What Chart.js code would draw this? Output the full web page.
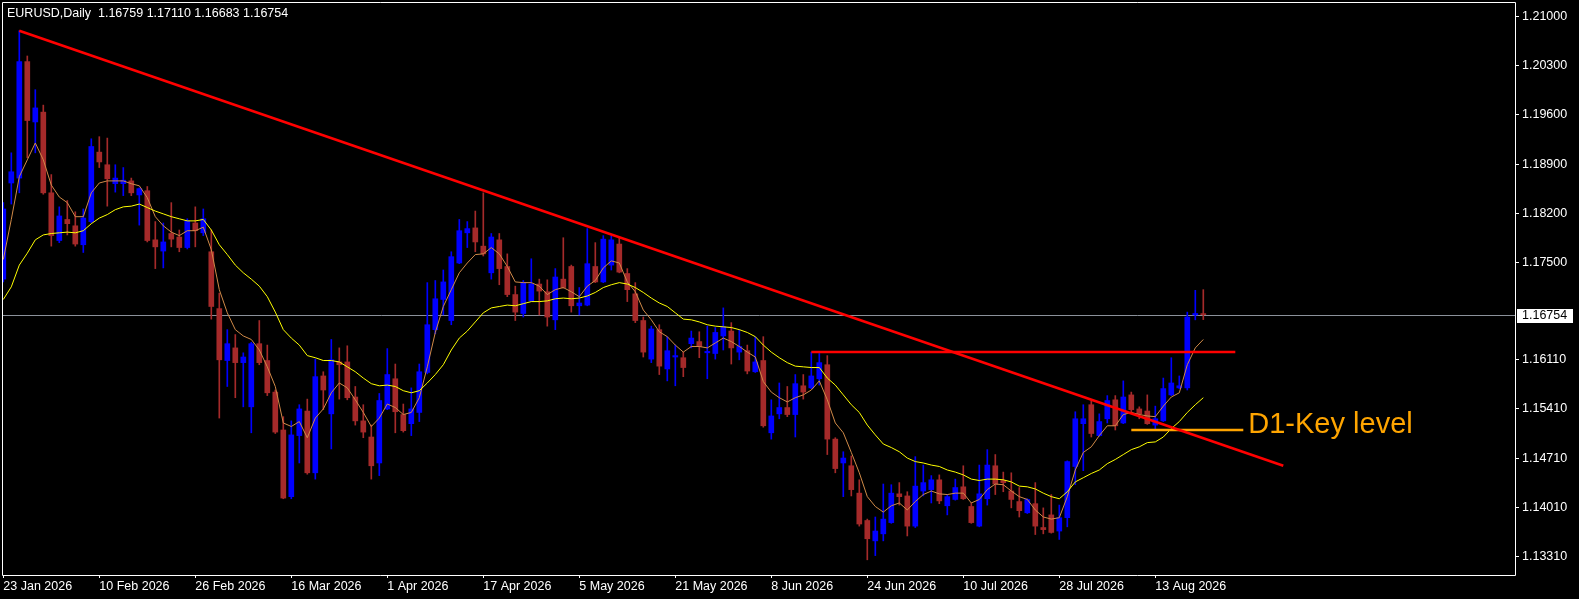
<!DOCTYPE html>
<html>
<head>
<meta charset="utf-8">
<title>EURUSD Daily</title>
<script src="https://cdn.jsdelivr.net/npm/chart.js@4/dist/chart.umd.min.js"></script>
<style>
  html, body { margin: 0; padding: 0; background: #000; }
  #wrap { width: 1579px; height: 599px; position: relative; }
</style>
</head>
<body>
<div id="wrap"><canvas id="chart"></canvas></div>
<script>
// ---- daily EURUSD candles, bar 0 = 23 Jan 2026 ----
const opens = [
  1.1726, 1.1863, 1.1870, 1.2036, 1.1950, 1.1964, 1.1849, 1.1781, 1.1811, 1.1802,
  1.1775, 1.1808, 1.1907, 1.1889, 1.1862, 1.1862, 1.1866, 1.1846, 1.1852, 1.1782,
  1.1766, 1.1791, 1.1786, 1.1771, 1.1806, 1.1792, 1.1765, 1.1684, 1.1610, 1.1628,
  1.1607, 1.1544, 1.1634, 1.1610, 1.1565, 1.1511, 1.1416, 1.1503, 1.1538, 1.1450,
  1.1588, 1.1534, 1.1608, 1.1608, 1.1558, 1.1524, 1.1501, 1.1464, 1.1541, 1.1584,
  1.1533, 1.1520, 1.1536, 1.1593, 1.1654, 1.1697, 1.1667, 1.1749, 1.1792, 1.1799,
  1.1773, 1.1735, 1.1782, 1.1744, 1.1704, 1.1677, 1.1695, 1.1719, 1.1708, 1.1668,
  1.1726, 1.1744, 1.1688, 1.1689, 1.1744, 1.1722, 1.1746, 1.1776, 1.1734, 1.1705,
  1.1667, 1.1612, 1.1654, 1.1598, 1.1615, 1.1614, 1.1634, 1.1637, 1.1621, 1.1620,
  1.1645, 1.1652, 1.1622, 1.1624, 1.1594, 1.1610, 1.1507, 1.1534, 1.1543, 1.1533,
  1.1574, 1.1571, 1.1584, 1.1604, 1.1498, 1.1464, 1.1460, 1.1421, 1.1382, 1.1353,
  1.1363, 1.1379, 1.1420, 1.1417, 1.1374, 1.1424, 1.1426, 1.1440, 1.1403, 1.1412,
  1.1430, 1.1402, 1.1374, 1.1413, 1.1460, 1.1439, 1.1424, 1.1409, 1.1393, 1.1406,
  1.1372, 1.1390, 1.1367, 1.1386, 1.1459, 1.1520, 1.1547, 1.1503, 1.1527, 1.1554,
  1.1521, 1.1561, 1.1541, 1.1538, 1.1518, 1.1524, 1.1561, 1.1571, 1.1571, 1.1675,
  1.16759
];
const highs = [
  1.1835, 1.1906, 1.2080, 1.2044, 1.1996, 1.1974, 1.1875, 1.1829, 1.1838, 1.1822,
  1.1826, 1.1926, 1.1929, 1.1927, 1.1889, 1.1885, 1.1870, 1.1856, 1.1858, 1.1808,
  1.1806, 1.1835, 1.1796, 1.1812, 1.1829, 1.1826, 1.1796, 1.1706, 1.1654, 1.1647,
  1.1621, 1.1636, 1.1667, 1.1632, 1.1568, 1.1530, 1.1524, 1.1547, 1.1555, 1.1612,
  1.1594, 1.1640, 1.1628, 1.1631, 1.1573, 1.1547, 1.1518, 1.1563, 1.1627, 1.1605,
  1.1548, 1.1571, 1.1605, 1.1721, 1.1724, 1.1739, 1.1765, 1.1811, 1.1808, 1.1823,
  1.1849, 1.1791, 1.1791, 1.1762, 1.1716, 1.1724, 1.1755, 1.1726, 1.1725, 1.1741,
  1.1785, 1.1746, 1.1714, 1.1798, 1.1778, 1.1788, 1.1788, 1.1785, 1.1741, 1.1721,
  1.1672, 1.1659, 1.1661, 1.1644, 1.1632, 1.1622, 1.1652, 1.1651, 1.1659, 1.1657,
  1.1685, 1.1664, 1.1654, 1.1632, 1.1644, 1.1644, 1.1554, 1.1578, 1.1573, 1.1590,
  1.1590, 1.1622, 1.1620, 1.1617, 1.1500, 1.1480, 1.1474, 1.1440, 1.1384, 1.1387,
  1.1434, 1.1433, 1.1436, 1.1423, 1.1473, 1.1461, 1.1446, 1.1447, 1.1419, 1.1441,
  1.1460, 1.1407, 1.1461, 1.1483, 1.1476, 1.1451, 1.1450, 1.1429, 1.1413, 1.1436,
  1.1400, 1.1419, 1.1404, 1.1467, 1.1537, 1.1547, 1.1553, 1.1534, 1.1560, 1.1560,
  1.1581, 1.1565, 1.1544, 1.1561, 1.1545, 1.1585, 1.1614, 1.1588, 1.1679, 1.1710,
  1.17110
];
const lows = [
  1.1722, 1.1833, 1.1849, 1.1899, 1.1906, 1.1847, 1.1773, 1.1778, 1.1789, 1.1773,
  1.1764, 1.1806, 1.1885, 1.1830, 1.1850, 1.1845, 1.1845, 1.1803, 1.1779, 1.1741,
  1.1742, 1.1772, 1.1765, 1.1769, 1.1772, 1.1788, 1.1669, 1.1528, 1.1573, 1.1557,
  1.1544, 1.1507, 1.1604, 1.1560, 1.1506, 1.1413, 1.1413, 1.1464, 1.1448, 1.1441,
  1.1540, 1.1484, 1.1555, 1.1554, 1.1518, 1.1500, 1.1441, 1.1446, 1.1540, 1.1507,
  1.1508, 1.1503, 1.1523, 1.1591, 1.1648, 1.1675, 1.1661, 1.1748, 1.1771, 1.1765,
  1.1759, 1.1726, 1.1718, 1.1701, 1.1667, 1.1672, 1.1694, 1.1675, 1.1659, 1.1654,
  1.1713, 1.1679, 1.1675, 1.1688, 1.1721, 1.1721, 1.1739, 1.1735, 1.1694, 1.1664,
  1.1615, 1.1607, 1.1590, 1.1581, 1.1574, 1.1587, 1.1628, 1.1614, 1.1584, 1.1612,
  1.1625, 1.1605, 1.1611, 1.1591, 1.1593, 1.1515, 1.1498, 1.1527, 1.1530, 1.1501,
  1.1555, 1.1570, 1.1575, 1.1476, 1.1450, 1.1416, 1.1417, 1.1374, 1.1326, 1.1332,
  1.1353, 1.1378, 1.1404, 1.1360, 1.1372, 1.1417, 1.1407, 1.1406, 1.1390, 1.1411,
  1.1412, 1.1378, 1.1373, 1.1404, 1.1419, 1.1423, 1.1400, 1.1387, 1.1392, 1.1362,
  1.1363, 1.1364, 1.1355, 1.1373, 1.1433, 1.1453, 1.1501, 1.1502, 1.1521, 1.1511,
  1.1520, 1.1536, 1.1527, 1.1519, 1.1511, 1.1523, 1.1560, 1.1570, 1.1568, 1.1668,
  1.16683
];
const closes = [
  1.1826, 1.1879, 1.2036, 1.1952, 1.1970, 1.1849, 1.1788, 1.1816, 1.1805, 1.1776,
  1.1813, 1.1915, 1.1893, 1.1869, 1.1870, 1.1867, 1.1849, 1.1855, 1.1781, 1.1772,
  1.1779, 1.1783, 1.1771, 1.1809, 1.1795, 1.1812, 1.1687, 1.1611, 1.1634, 1.1607,
  1.1615, 1.1634, 1.1607, 1.1564, 1.1508, 1.1414, 1.1504, 1.1541, 1.1450, 1.1587,
  1.1568, 1.1611, 1.1604, 1.1557, 1.1524, 1.1508, 1.1460, 1.1553, 1.1590, 1.1537,
  1.1510, 1.1541, 1.1594, 1.1661, 1.1698, 1.1722, 1.1758, 1.1795, 1.1798, 1.1779,
  1.1762, 1.1786, 1.1741, 1.1704, 1.1679, 1.1721, 1.1719, 1.1709, 1.1672, 1.1729,
  1.1714, 1.1688, 1.1692, 1.1748, 1.1722, 1.1783, 1.1782, 1.1736, 1.1711, 1.1667,
  1.1622, 1.1655, 1.1602, 1.1624, 1.1617, 1.1600, 1.1642, 1.1630, 1.1623, 1.1650,
  1.1658, 1.1628, 1.1630, 1.1595, 1.1608, 1.1517, 1.1531, 1.1543, 1.1533, 1.1577,
  1.1565, 1.1588, 1.1607, 1.1498, 1.1456, 1.1471, 1.1426, 1.1377, 1.1356, 1.1367,
  1.1384, 1.1421, 1.1416, 1.1374, 1.1431, 1.1436, 1.1440, 1.1410, 1.1416, 1.1429,
  1.1413, 1.1379, 1.1420, 1.1461, 1.1434, 1.1436, 1.1412, 1.1396, 1.1412, 1.1374,
  1.1369, 1.1365, 1.1386, 1.1466, 1.1527, 1.1527, 1.1506, 1.1523, 1.1553, 1.1517,
  1.1558, 1.1540, 1.1534, 1.1520, 1.1527, 1.1570, 1.1578, 1.1574, 1.1672, 1.1677,
  1.16754
];

// moving averages as drawn on the chart (fast = orange, slow = yellow)
const maFast = [
  1.1754, 1.1811, 1.1872, 1.1896, 1.1920, 1.1896, 1.1860, 1.1843, 1.1835, 1.1815,
  1.1815, 1.1849, 1.1863, 1.1866, 1.1866, 1.1866, 1.1862, 1.1859, 1.1842, 1.1815,
  1.1802, 1.1793, 1.1788, 1.1795, 1.1795, 1.1800, 1.1768, 1.1711, 1.1678, 1.1654,
  1.1645, 1.1640, 1.1625, 1.1601, 1.1573, 1.1521, 1.1516, 1.1523, 1.1500, 1.1528,
  1.1541, 1.1564, 1.1578, 1.1571, 1.1554, 1.1536, 1.1516, 1.1528, 1.1548, 1.1543,
  1.1533, 1.1536, 1.1557, 1.1601, 1.1650, 1.1687, 1.1711, 1.1735, 1.1749, 1.1761,
  1.1762, 1.1771, 1.1762, 1.1744, 1.1722, 1.1721, 1.1721, 1.1716, 1.1704, 1.1711,
  1.1714, 1.1708, 1.1701, 1.1716, 1.1724, 1.1742, 1.1752, 1.1749, 1.1722, 1.1708,
  1.1682, 1.1668, 1.1651, 1.1644, 1.1632, 1.1622, 1.1630, 1.1630, 1.1628, 1.1635,
  1.1642, 1.1637, 1.1630, 1.1622, 1.1615, 1.1580, 1.1565, 1.1557, 1.1551, 1.1557,
  1.1561, 1.1568, 1.1581, 1.1554, 1.1521, 1.1507, 1.1479, 1.1450, 1.1416, 1.1402,
  1.1394, 1.1403, 1.1407, 1.1397, 1.1409, 1.1419, 1.1424, 1.1420, 1.1419, 1.1421,
  1.1421, 1.1407, 1.1412, 1.1426, 1.1434, 1.1433, 1.1424, 1.1416, 1.1412, 1.1397,
  1.1387, 1.1384, 1.1386, 1.1416, 1.1454, 1.1479, 1.1487, 1.1503, 1.1517, 1.1517,
  1.1533, 1.1536, 1.1533, 1.1531, 1.1530, 1.1545, 1.1558, 1.1564, 1.1604, 1.1628,
  1.1640
];
const maSlow = [
  1.1697, 1.1715, 1.1746, 1.1763, 1.1782, 1.1789, 1.1791, 1.1792, 1.1793, 1.1792,
  1.1795, 1.1805, 1.1813, 1.1818, 1.1825, 1.1829, 1.1830, 1.1833, 1.1828, 1.1823,
  1.1819, 1.1815, 1.1812, 1.1809, 1.1809, 1.1811, 1.1796, 1.1775, 1.1761, 1.1746,
  1.1735, 1.1726, 1.1716, 1.1701, 1.1679, 1.1654, 1.1642, 1.1632, 1.1617, 1.1614,
  1.1610, 1.1610, 1.1608, 1.1601, 1.1594, 1.1585, 1.1577, 1.1574, 1.1575, 1.1573,
  1.1567, 1.1564, 1.1567, 1.1578, 1.1590, 1.1604, 1.1625, 1.1642, 1.1652, 1.1665,
  1.1678, 1.1685, 1.1687, 1.1689, 1.1688, 1.1691, 1.1694, 1.1694, 1.1695, 1.1698,
  1.1699, 1.1698, 1.1699, 1.1702, 1.1707, 1.1714, 1.1718, 1.1721, 1.1719, 1.1714,
  1.1707, 1.1699, 1.1692, 1.1687, 1.1678, 1.1669, 1.1668, 1.1665, 1.1661, 1.1659,
  1.1658, 1.1657, 1.1654, 1.1650, 1.1644, 1.1632, 1.1622, 1.1614, 1.1607, 1.1602,
  1.1601, 1.1600, 1.1600, 1.1585, 1.1575, 1.1561, 1.1547, 1.1536, 1.1518, 1.1504,
  1.1491, 1.1486, 1.1480, 1.1471, 1.1466, 1.1464, 1.1461, 1.1459, 1.1454, 1.1451,
  1.1447, 1.1441, 1.1439, 1.1441, 1.1441, 1.1440, 1.1437, 1.1431, 1.1430, 1.1427,
  1.1421, 1.1416, 1.1413, 1.1423, 1.1437, 1.1443, 1.1449, 1.1454, 1.1463, 1.1469,
  1.1476, 1.1483, 1.1487, 1.1493, 1.1494, 1.1501, 1.1513, 1.1523, 1.1536, 1.1547,
  1.1557
];

// bottom axis: one date label every 12 bars
const dateLabels = [
  '23 Jan 2026', '10 Feb 2026', '26 Feb 2026', '16 Mar 2026', '1 Apr 2026',
  '17 Apr 2026', '5 May 2026', '21 May 2026', '8 Jun 2026', '24 Jun 2026',
  '10 Jul 2026', '28 Jul 2026', '13 Aug 2026'
];
const barsPerLabel = 12;
const priceTicks = [1.21, 1.203, 1.196, 1.189, 1.182, 1.175, 1.1611, 1.1541, 1.1471, 1.1401, 1.1331];
const lastPrice = 1.16754;

// drawn objects: [bar index, price]
const trendLine = [[2, 1.2080], [160, 1.1460]];
const resistance = [[101, 1.1622], [154, 1.1622]];
const keyLevel = [[141, 1.1511], [155, 1.1511]];
const keyLevelText = 'D1-Key level';
const titleText = 'EURUSD,Daily  1.16759 1.17110 1.16683 1.16754';

const BULL = '#0000ff';
const BEAR = '#a52a2a';
const candleColors = closes.map((c, i) => c >= opens[i] ? BULL : BEAR);
const toXY = pts => pts.map(p => ({x: p[0], y: p[1]}));

const overlay = {
    id: 'overlay',
    beforeDatasetsDraw(chart) {
        const {ctx, chartArea: a, scales: {y}} = chart;
        const py = Math.round(y.getPixelForValue(lastPrice)) + 0.5;
        ctx.save();
        ctx.strokeStyle = '#8b919a';
        ctx.lineWidth = 1;
        ctx.beginPath();
        ctx.moveTo(a.left, py);
        ctx.lineTo(a.right, py);
        ctx.stroke();
        ctx.restore();
    },
    afterDatasetsDraw(chart) {
        const {ctx, chartArea: a, scales: {x, y}} = chart;
        ctx.save();

        // frame
        ctx.strokeStyle = '#ffffff';
        ctx.lineWidth = 1;
        ctx.beginPath();
        ctx.moveTo(a.left - 0.5, a.top - 0.5);
        ctx.lineTo(a.right - 0.5, a.top - 0.5);
        ctx.lineTo(a.right - 0.5, a.bottom + 0.5);
        ctx.lineTo(a.left - 0.5, a.bottom + 0.5);
        ctx.closePath();
        ctx.stroke();

        // title
        ctx.fillStyle = '#ffffff';
        ctx.font = '12.5px "Liberation Sans", Arial, sans-serif';
        ctx.textBaseline = 'alphabetic';
        ctx.textAlign = 'left';
        ctx.fillText(titleText, a.left + 4, a.top + 14);

        // key level caption
        const kx = x.getPixelForValue(keyLevel[1][0]);
        const ky = y.getPixelForValue(keyLevel[1][1]);
        ctx.fillStyle = '#ffa500';
        ctx.font = '29px "Liberation Sans", Arial, sans-serif';
        ctx.fillText(keyLevelText, kx + 5, ky + 3);

        // last price box
        const py = Math.round(y.getPixelForValue(lastPrice));
        ctx.fillStyle = '#ffffff';
        ctx.fillRect(a.right + 1, py - 6, 56, 14);
        ctx.fillStyle = '#000000';
        ctx.font = '12.5px "Liberation Sans", Arial, sans-serif';
        ctx.textBaseline = 'middle';
        ctx.fillText(lastPrice.toFixed(5), a.right + 6, py + 1);
        ctx.restore();
    }
};

const lineSet = (data, color, width) => ({
    type: 'line',
    data: data,
    borderColor: color,
    borderWidth: width,
    pointRadius: 0,
    tension: 0,
    fill: false
});

new Chart(document.getElementById('chart'), {
    type: 'bar',
    data: {
        datasets: [
            lineSet(toXY(trendLine), '#ff0000', 2.5),
            lineSet(toXY(resistance), '#ff0000', 2.5),
            lineSet(toXY(keyLevel), '#ffa500', 2.5),
            lineSet(maSlow.map((v, i) => ({x: i, y: v})), '#ffff00', 1),
            lineSet(maFast.map((v, i) => ({x: i, y: v})), '#d08a48', 1),
            {
                // candle bodies
                data: opens.map((o, i) => ({x: i, y: [o, closes[i]]})),
                backgroundColor: candleColors,
                barThickness: 5,
                minBarLength: 1,
                grouped: false
            },
            {
                // wicks
                data: lows.map((l, i) => ({x: i, y: [l, highs[i]]})),
                backgroundColor: candleColors,
                barThickness: 1,
                grouped: false
            }
        ]
    },
    options: {
        responsive: true,
        maintainAspectRatio: false,
        animation: false,
        events: [],
        layout: { padding: { left: 3, top: 3, right: 0, bottom: 0 } },
        plugins: {
            legend: { display: false },
            tooltip: { enabled: false }
        },
        scales: {
            x: {
                type: 'linear',
                position: 'bottom',
                offset: false,
                min: -0.0375,
                max: 189.0875,
                afterBuildTicks: s => { s.ticks = dateLabels.map((_, k) => ({value: k * barsPerLabel})); },
                afterFit: s => { s.height = 24; s.paddingLeft = 0; s.paddingRight = 0; },
                grid: { offset: false, drawOnChartArea: false, drawTicks: true, tickLength: 3, color: '#ffffff' },
                border: { display: false },
                ticks: {
                    autoSkip: false,
                    maxRotation: 0,
                    align: 'start',
                    padding: 1,
                    color: '#ffffff',
                    font: { family: '"Liberation Sans", Arial, sans-serif', size: 12.5 },
                    callback: (v, i) => dateLabels[i]
                }
            },
            y: {
                type: 'linear',
                position: 'right',
                min: 1.130434,
                max: 1.211952,
                afterBuildTicks: s => { s.ticks = priceTicks.map(v => ({value: v})); },
                afterFit: s => { s.width = 63; s.paddingTop = 0; s.paddingBottom = 0; },
                grid: { drawOnChartArea: false, drawTicks: true, tickLength: 3, color: '#ffffff' },
                border: { display: false },
                ticks: {
                    padding: 3,
                    color: '#ffffff',
                    font: { family: '"Liberation Sans", Arial, sans-serif', size: 12.5 },
                    callback: v => v.toFixed(5)
                }
            }
        }
    },
    plugins: [overlay]
});
</script>
</body>
</html>
